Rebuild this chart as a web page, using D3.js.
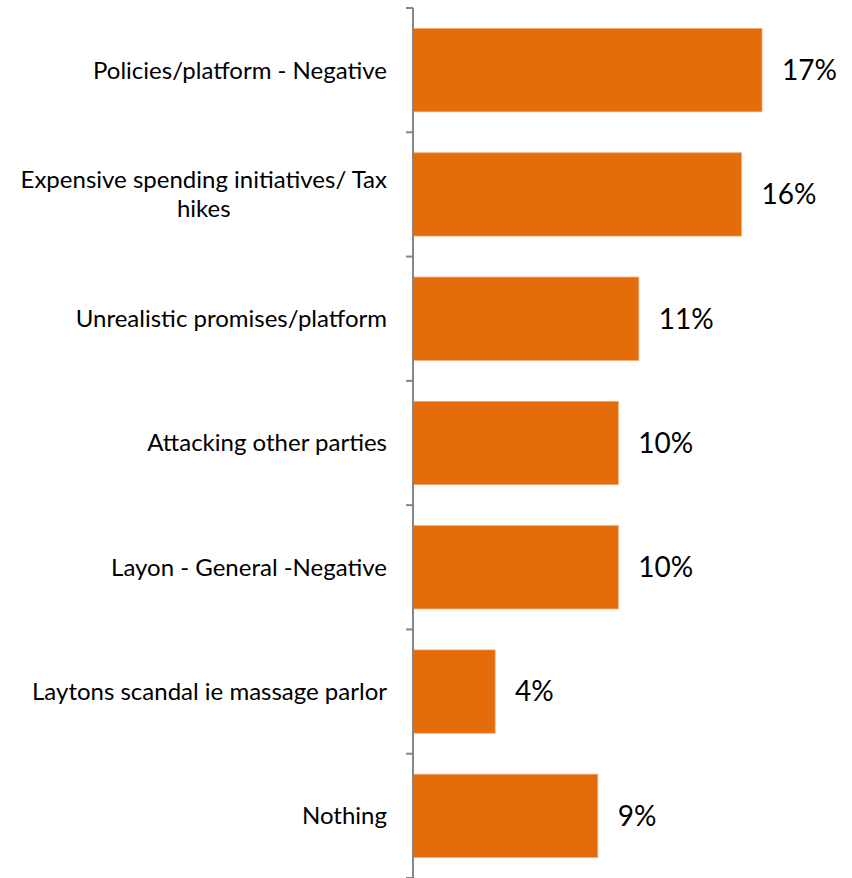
<!DOCTYPE html>
<html>
<head>
<meta charset="utf-8">
<script src="https://cdn.jsdelivr.net/npm/d3@7"></script>
<style>
  html, body { margin: 0; padding: 0; background: #fff; }
  svg { display: block; }
  text { font-family: Lato, "Open Sans", sans-serif; fill: #000; }
</style>
</head>
<body>
<svg id="chart" width="852" height="878"></svg>
<script>
// Reasons given (negative impressions), share of respondents in percent
const categories = [
  "Policies/platform - Negative",
  "Expensive spending initiatives/ Tax hikes",
  "Unrealistic promises/platform",
  "Attacking other parties",
  "Layon - General -Negative",
  "Laytons scandal ie massage  parlor",
  "Nothing"
];
const values = [17, 16, 11, 10, 10, 4, 9];
// Line breaks for category labels that wrap
const labelLines = [
  ["Policies/platform - Negative"],
  ["Expensive spending initiatives/  Tax", "hikes"],
  ["Unrealistic promises/platform"],
  ["Attacking other parties"],
  ["Layon - General -Negative"],
  ["Laytons scandal ie massage  parlor"],
  ["Nothing"]
];

const svg = d3.select("#chart");
const axisX = 413, plotTop = 8, plotBottom = 878;

const y = d3.scaleBand()
  .domain(categories)
  .range([plotTop, plotBottom])
  .paddingInner(0.33)
  .paddingOuter(0.165);

const x = d3.scaleLinear()
  .domain([0, 17])
  .range([axisX, axisX + 349]);

// Bars
svg.append("g").selectAll("rect")
  .data(categories)
  .join("rect")
  .attr("x", x(0))
  .attr("y", d => y(d))
  .attr("width", (d, i) => x(values[i]) - x(0))
  .attr("height", y.bandwidth())
  .attr("fill", "#E46C0A")
  .attr("stroke", "#F2A66E")
  .attr("stroke-width", 0.8);

// Category axis: line plus outward ticks at band boundaries
const boundaries = d3.range(categories.length + 1).map(i => plotTop + i * y.step());
const axisG = svg.append("g");
axisG.append("line")
  .attr("x1", axisX).attr("x2", axisX)
  .attr("y1", plotTop).attr("y2", plotBottom)
  .attr("stroke", "#868686").attr("stroke-width", 2);
axisG.selectAll("line.tick")
  .data(boundaries)
  .join("line")
  .attr("class", "tick")
  .attr("x1", axisX - 7).attr("x2", axisX)
  .attr("y1", d => d).attr("y2", d => d)
  .attr("stroke", "#868686").attr("stroke-width", 2);

// Category labels: right-aligned block, wrapped lines centered within it
const labelRight = 387, fs = 24, lh = 29;
categories.forEach((c, i) => {
  const lines = labelLines[i];
  const g = svg.append("g");
  const texts = lines.map(l => g.append("text")
    .attr("font-size", fs)
    .attr("text-anchor", "middle")
    .text(l));
  const widths = texts.map(t => t.node().getComputedTextLength());
  const w = d3.max(widths);
  const cx = labelRight - w / 2;
  const cy = y(c) + y.bandwidth() / 2;
  const y0 = cy - (lines.length - 1) * lh / 2;
  texts.forEach((t, j) => t
    .attr("x", cx)
    .attr("y", y0 + j * lh)
    .attr("dy", "0.35em"));
});

// Value labels
svg.append("g").selectAll("text")
  .data(categories)
  .join("text")
  .attr("x", (d, i) => x(values[i]) + 20)
  .attr("y", d => y(d) + y.bandwidth() / 2)
  .attr("dy", "0.35em")
  .attr("font-size", 28)
  .text((d, i) => values[i] + "%");
</script>
</body>
</html>
